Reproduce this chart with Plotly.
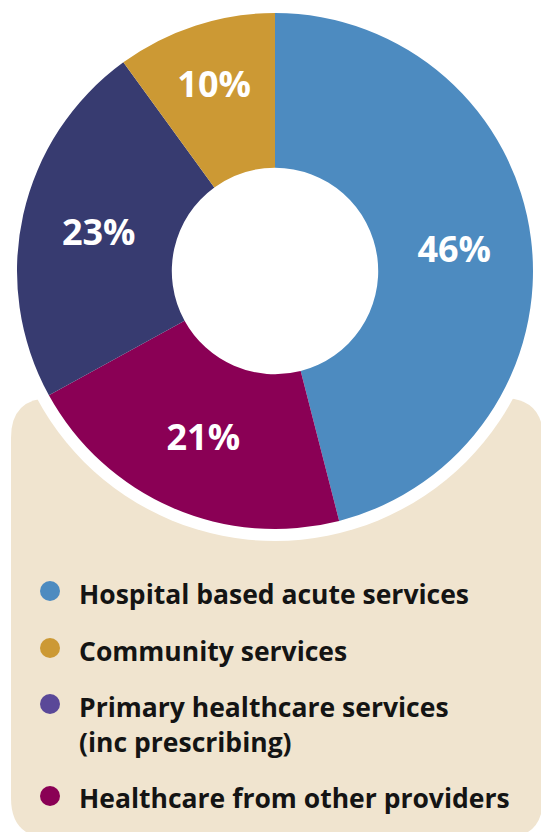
import plotly.graph_objects as go

# ---- data ----
categories = [
    "Hospital based acute services",
    "Community services",
    "Primary healthcare services",
    "Healthcare from other providers",
]
category_notes = ["", "", "(inc prescribing)", ""]
shares = [46, 10, 23, 21]

# ---- styles ----
slice_colors = ["#4d8bc0", "#cc9934", "#373b70", "#8a0055"]
legend_colors = ["#4d8bc0", "#cc9934", "#5a4898", "#8a0055"]
pie_order = [0, 3, 2, 1]  # clockwise from 12 o'clock
W, H = 541, 832
cx, cy, R = 275, 271, 258
FONT = "Open Sans"

fig = go.Figure()

# pie
fig.add_trace(go.Pie(
    labels=[categories[i] for i in pie_order],
    values=[shares[i] for i in pie_order],
    marker=dict(colors=[slice_colors[i] for i in pie_order], line=dict(width=0)),
    sort=False, direction="clockwise", rotation=0, hole=0.40,
    texttemplate="%{value}%", textposition="inside",
    insidetextorientation="horizontal",
    textfont=dict(family=FONT, size=36, color="white", weight="bold"),
    hoverinfo="skip", showlegend=False,
    domain=dict(x=[(cx - R) / W, (cx + R) / W], y=[1 - (cy + R) / H, 1 - (cy - R) / H]),
))

# custom legend
dot_y = [591, 648, 704, 796]
text_y = [597, 654, 710, 801]
note_y = 745
fig.add_trace(go.Scatter(
    x=[50] * 4, y=dot_y, mode="markers",
    marker=dict(size=20, color=legend_colors, line=dict(width=0)),
    hoverinfo="skip", showlegend=False,
))
lbl_text = categories + [n for n in category_notes if n]
lbl_y = text_y + [note_y]
fig.add_trace(go.Scatter(
    x=[79] * len(lbl_text), y=lbl_y, mode="text", text=lbl_text,
    textposition="middle right",
    textfont=dict(family=FONT, size=26.5, color="#141414", weight="bold"),
    hoverinfo="skip", showlegend=False,
))

# background panel and white ring
panel = "M 11,438 Q 11,398 51,398 L 503,398 Q 543,398 543,438 L 543,798 Q 543,838 503,838 L 51,838 Q 11,838 11,798 Z"
fig.add_shape(type="path", path=panel, xref="x", yref="y",
              fillcolor="#f0e4cf", line=dict(width=0), layer="below")
fig.add_shape(type="circle", xref="x", yref="y",
              x0=cx - R - 12, x1=cx + R + 12, y0=cy - R - 12, y1=cy + R + 12,
              fillcolor="white", line=dict(width=0), layer="below")

fig.update_layout(
    width=W, height=H, margin=dict(l=0, r=0, t=0, b=0),
    paper_bgcolor="white", plot_bgcolor="rgba(0,0,0,0)",
    xaxis=dict(range=[0, W], visible=False, fixedrange=True, domain=[0, 1]),
    yaxis=dict(range=[H, 0], visible=False, fixedrange=True, domain=[0, 1]),
)

fig.write_html(
    "out.html",
    config={"displayModeBar": False, "staticPlot": True},
    post_script="document.body.style.margin='0';document.body.style.overflow='hidden';",
)
